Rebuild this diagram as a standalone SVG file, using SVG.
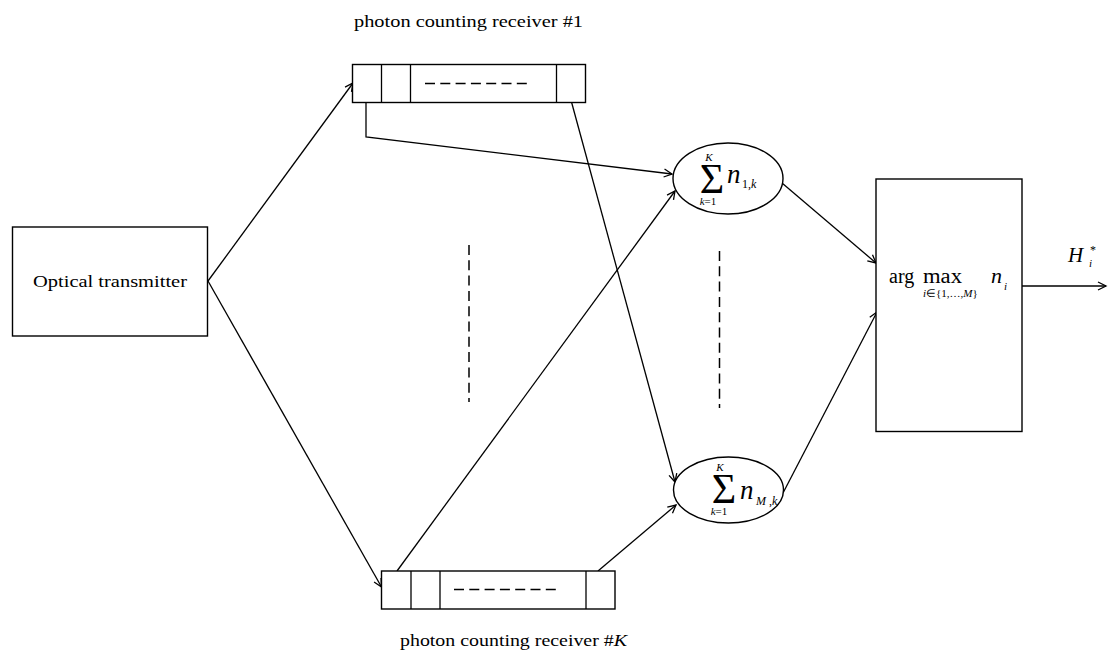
<svg xmlns="http://www.w3.org/2000/svg" width="1108" height="651" viewBox="0 0 1108 651">
<style>
.box{fill:#fff;stroke:#000;stroke-width:1.4}
.ln{fill:none;stroke:#000;stroke-width:1.3}
.dash{fill:none;stroke:#000;stroke-width:1.5;stroke-dasharray:10 5.3}
.conn{fill:none;stroke:#000;stroke-width:1.3;marker-end:url(#arr)}
.t{font-family:"Liberation Serif","Times New Roman",serif;fill:#000}
.it{font-style:italic}
</style>
<defs>
<marker id="arr" viewBox="-10 -6 12 12" refX="0" refY="0" markerWidth="12" markerHeight="12" markerUnits="userSpaceOnUse" orient="auto">
<path d="M-8,-4 L0,0 L-8,4" fill="none" stroke="#000" stroke-width="1.3"/>
</marker>
</defs>
<rect width="1108" height="651" fill="#fff"/>

<g id="connectors">
<line class="conn" x1="208" y1="281" x2="353" y2="83"/>
<line class="conn" x1="208" y1="281" x2="381.5" y2="587"/>
<polyline class="conn" points="366,102 366,137 672,174"/>
<line class="conn" x1="571.5" y1="102" x2="675" y2="482"/>
<line class="conn" x1="397" y1="571" x2="675" y2="191"/>
<line class="conn" x1="598" y1="571" x2="676" y2="505"/>
<line class="conn" x1="782" y1="183" x2="876" y2="263"/>
<line class="conn" x1="783" y1="493" x2="877" y2="312"/>
<line class="conn" x1="1022" y1="286" x2="1106" y2="286"/>
</g>

<g id="transmitter">
<rect class="box" x="12.5" y="227" width="195" height="109"/>
<text class="t" x="33" y="287" font-size="17" textLength="154" lengthAdjust="spacingAndGlyphs">Optical transmitter</text>
</g>

<g id="receiver1">
<rect class="box" x="352.5" y="64.5" width="233" height="38"/>
<line class="ln" x1="381.5" y1="64.5" x2="381.5" y2="102.5"/>
<line class="ln" x1="410.5" y1="64.5" x2="410.5" y2="102.5"/>
<line class="ln" x1="556.5" y1="64.5" x2="556.5" y2="102.5"/>
<line class="dash" x1="425" y1="83.5" x2="530" y2="83.5" style="stroke-width:1.3"/>
<text class="t" x="354" y="27" font-size="16" textLength="229" lengthAdjust="spacingAndGlyphs">photon counting receiver #1</text>
</g>

<g id="receiverK">
<rect class="box" x="381.5" y="571" width="233.5" height="38"/>
<line class="ln" x1="411" y1="571" x2="411" y2="609"/>
<line class="ln" x1="440" y1="571" x2="440" y2="609"/>
<line class="ln" x1="586" y1="571" x2="586" y2="609"/>
<line class="dash" x1="454" y1="589.5" x2="559" y2="589.5" style="stroke-width:1.3"/>
<text class="t" x="400" y="646" font-size="16" textLength="227" lengthAdjust="spacingAndGlyphs">photon counting receiver #<tspan class="it">K</tspan></text>
</g>

<g id="dots">
<line class="dash" x1="469" y1="245" x2="469" y2="402"/>
<line class="dash" x1="719.5" y1="251" x2="719.5" y2="408"/>
</g>

<g id="sum1">
<ellipse class="box" cx="728" cy="178.5" rx="55" ry="35.5"/>
<text class="t" x="712" y="193" font-size="42" text-anchor="middle">Σ</text>
<text class="t it" x="709" y="161" font-size="11" text-anchor="middle">K</text>
<text class="t" x="708" y="205" font-size="11" text-anchor="middle"><tspan class="it">k</tspan>=1</text>
<text class="t it" x="727" y="183" font-size="27">n</text>
<text class="t" x="742" y="188" font-size="12">1,<tspan class="it">k</tspan></text>
</g>

<g id="sumM">
<ellipse class="box" cx="728.5" cy="490" rx="55" ry="33"/>
<text class="t" x="724" y="503" font-size="42" text-anchor="middle">Σ</text>
<text class="t it" x="720" y="471" font-size="11" text-anchor="middle">K</text>
<text class="t" x="719" y="515" font-size="11" text-anchor="middle"><tspan class="it">k</tspan>=1</text>
<text class="t it" x="740" y="499" font-size="27">n</text>
<text class="t it" x="756" y="505" font-size="12">M<tspan font-style="normal"> ,</tspan>k</text>
</g>

<g id="argmax">
<rect class="box" x="876" y="179" width="146" height="252.5"/>
<text class="t" x="889" y="283" font-size="20">arg</text>
<text class="t" x="923" y="283" font-size="20" textLength="39" lengthAdjust="spacingAndGlyphs">max</text>
<text class="t" x="923" y="297" font-size="11"><tspan class="it">i</tspan>∈{1,…,<tspan class="it">M</tspan>}</text>
<text class="t it" x="991" y="283" font-size="22">n</text>
<text class="t it" x="1004" y="290" font-size="11">i</text>
</g>

<g id="output">
<text class="t it" x="1068" y="262" font-size="21">H</text>
<text class="t it" x="1089" y="267" font-size="11">i</text>
<text class="t" x="1090" y="254" font-size="12">*</text>
</g>
</svg>
